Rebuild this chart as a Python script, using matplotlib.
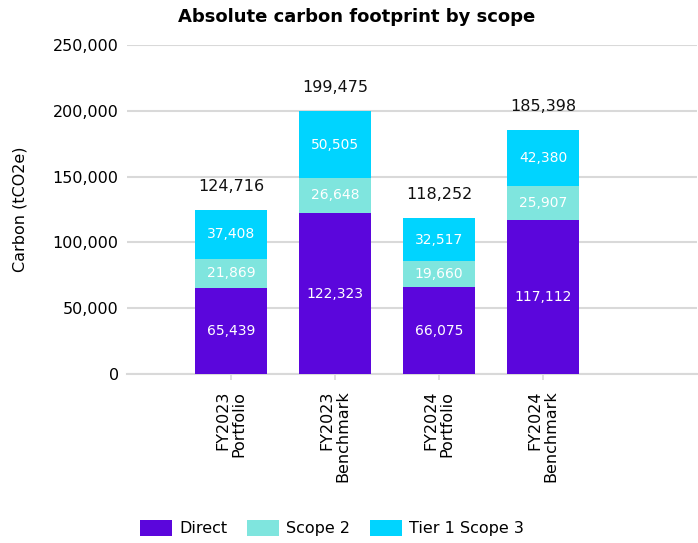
import numpy as np
import matplotlib.pyplot as plt
from matplotlib.transforms import offset_copy

plt.rcParams['font.family'] = ['DejaVu Sans']

# categories and per-scope emissions (tCO2e)
categories = ["FY2023\nPortfolio", "FY2023\nBenchmark", "FY2024\nPortfolio", "FY2024\nBenchmark"]
direct = [65439, 122323, 66075, 117112]
scope2 = [21869, 26648, 19660, 25907]
scope3 = [37408, 50505, 32517, 42380]
totals = [124716, 199475, 118252, 185398]

series = [("Direct", direct, "#5B06DC"),
          ("Scope 2", scope2, "#7FE5DE"),
          ("Tier 1 Scope 3", scope3, "#00D4FF")]

fig = plt.figure(figsize=(6.98, 5.43), dpi=100)
ax = fig.add_axes([127 / 698, (543 - 374) / 543, 570 / 698, 329 / 543])

x = np.arange(len(categories))
bottom = np.zeros(len(categories))
for name, vals, col in series:
    vals = np.array(vals)
    ax.bar(x, vals, width=0.70, bottom=bottom, color=col, label=name, zorder=3)
    for xi, b, v in zip(x, bottom, vals):
        ax.text(xi, b + v / 2, f"{v:,}", ha="center", va="center",
                color="white", fontsize=10, zorder=4)
    bottom += vals

for xi, t in zip(x, totals):
    ax.annotate(f"{t:,}", (xi, t), xytext=(0, 17), textcoords="offset points",
                ha="center", va="center", fontsize=11.5, color="#111111")

ax.set_xlim(-1, 4.48)
ax.set_ylim(0, 250000)
ax.set_yticks(np.arange(0, 250001, 50000))
ax.yaxis.set_major_formatter(plt.FuncFormatter(lambda v, p: f"{int(v):,}"))
ax.set_xticks(x)
ax.set_xticklabels([])
# rotated two-line category labels, line ends flush at the top
lbl_trans = offset_copy(ax.get_xaxis_transform(), fig=fig, y=-12, units="points")
for xi, cat in zip(x, categories):
    ax.text(xi, 0, cat, transform=lbl_trans, rotation=90, ha="center", va="top",
            multialignment="right", fontsize=11.5, linespacing=1.1)

ax.grid(axis="y", color="#D9D9D9", linewidth=1.5, zorder=0)
for s in ["top", "right", "left"]:
    ax.spines[s].set_visible(False)
ax.spines["bottom"].set_color("#D9D9D9")
ax.spines["bottom"].set_linewidth(1.5)
ax.tick_params(axis="y", length=0, labelsize=11.5, pad=6)
ax.tick_params(axis="x", length=4, color="#D9D9D9", width=1.2)

ax.set_ylabel("Carbon (tCO2e)", fontsize=11.5, labelpad=18)
fig.text(357 / 698, 1 - 17 / 543, "Absolute carbon footprint by scope",
         ha="center", va="center", fontsize=13, fontweight="bold")

fig.legend(loc="center", bbox_to_anchor=(332 / 698, 1 - 528 / 543), ncol=3,
           frameon=False, fontsize=11.5, handlelength=2.0, handleheight=1.2,
           columnspacing=1.25, handletextpad=0.45)

fig.savefig("out.png", dpi=100)
